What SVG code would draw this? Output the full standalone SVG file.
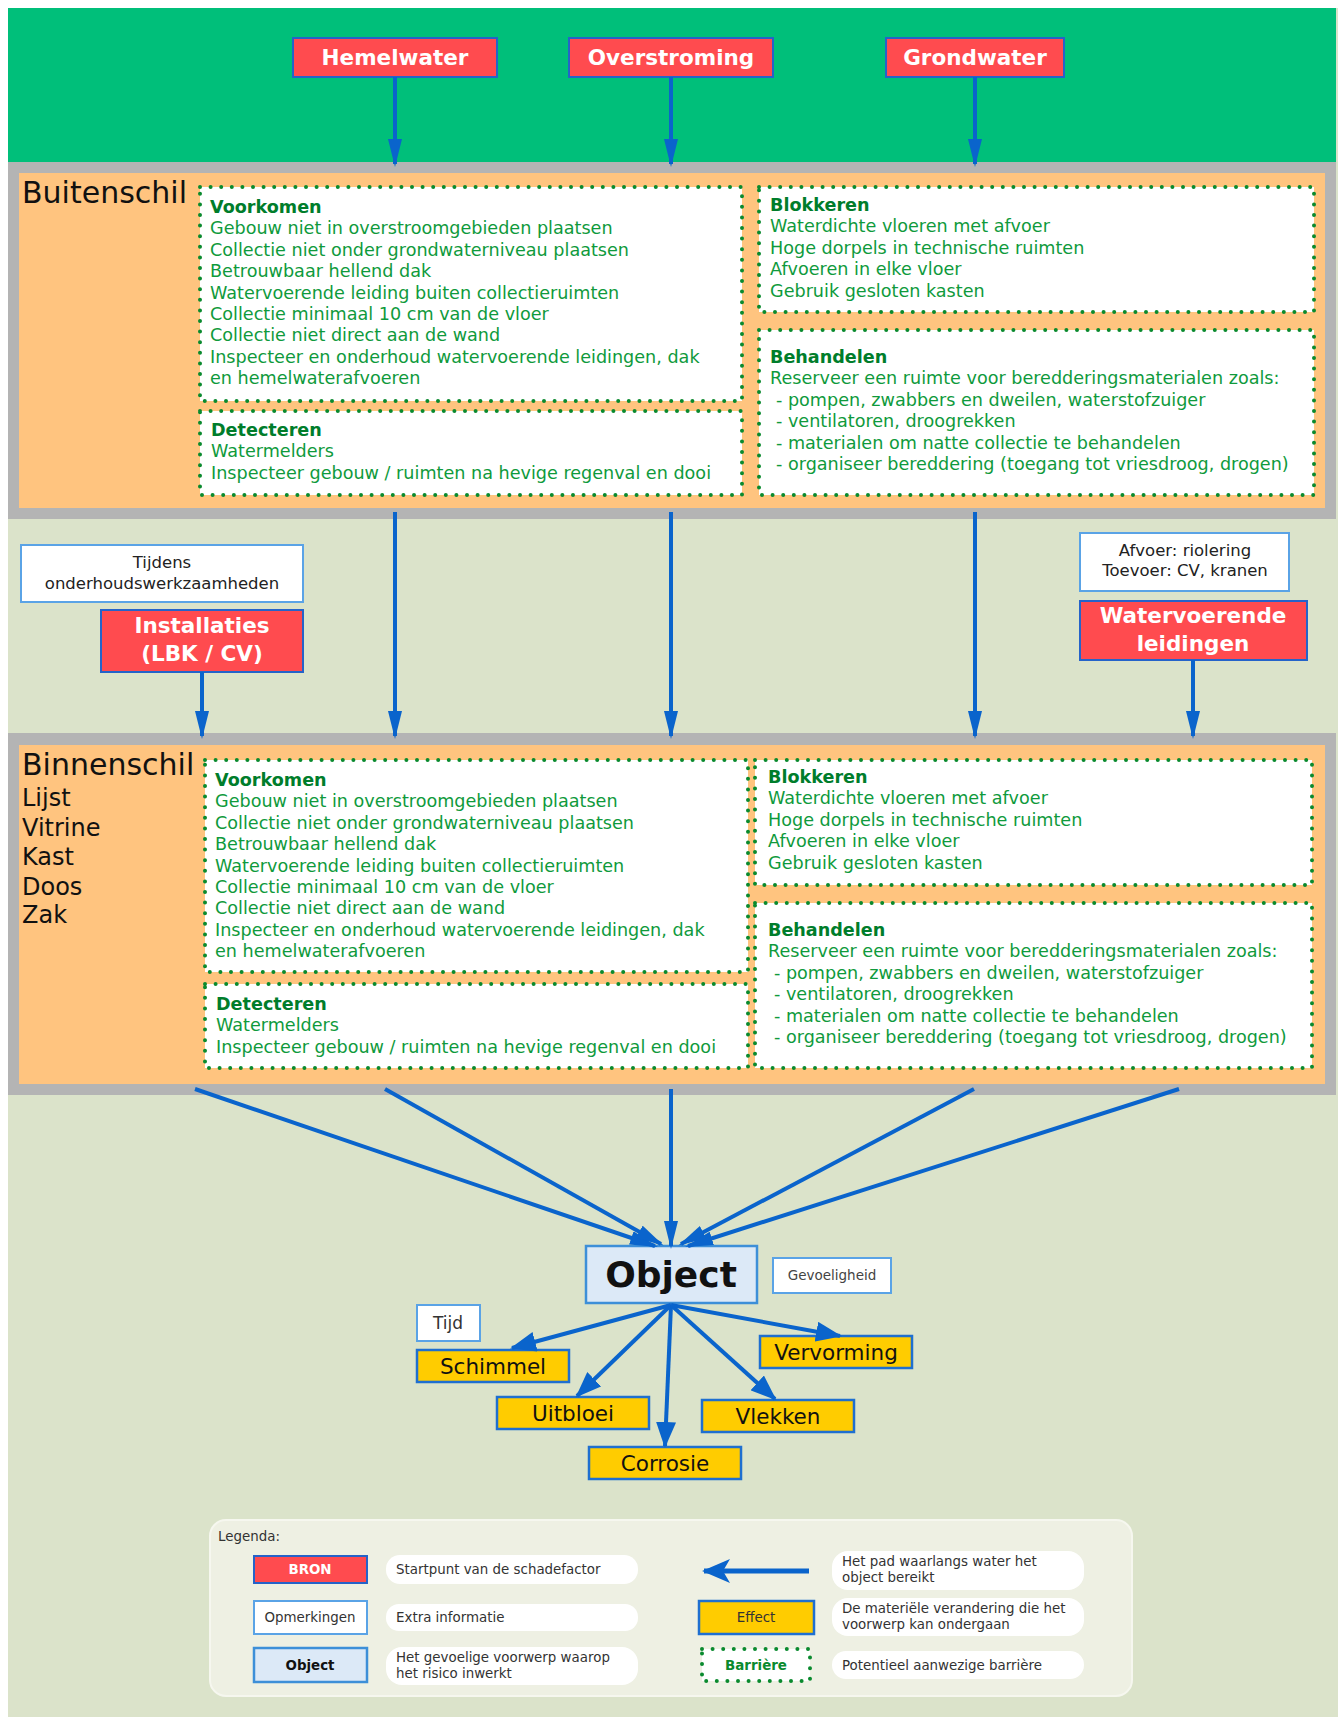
<svg xmlns="http://www.w3.org/2000/svg" width="1338" height="1717" viewBox="0 0 1338 1717">
<defs>
<marker id="ah" markerUnits="userSpaceOnUse" markerWidth="28" markerHeight="14" viewBox="0 0 28 14" refX="25" refY="7" orient="auto">
<path d="M0,0 L28,7 L0,14 z" fill="#0a64cc"/>
</marker>
<marker id="ah2" markerUnits="userSpaceOnUse" markerWidth="26" markerHeight="20" viewBox="0 0 26 20" refX="24" refY="10" orient="auto">
<path d="M0,0 L26,10 L0,20 z" fill="#0a64cc"/>
</marker>
<marker id="ah3" markerUnits="userSpaceOnUse" markerWidth="28" markerHeight="24" viewBox="0 0 28 24" refX="26" refY="12" orient="auto">
<path d="M0,0 L28,12 L0,24 L7,12 z" fill="#0a64cc"/>
</marker>
</defs>
<style>
text{font-family:"DejaVu Sans",Verdana,sans-serif}
.body{font-size:17.6px;fill:#0f9a3c}
.ttl{font-weight:bold;fill:#007d2b}
.dot{fill:#fff;stroke:#0a8a2e;stroke-width:4;stroke-dasharray:0 10.6;stroke-linecap:round}
.src{fill:#ff4b4f;stroke:#2563c9;stroke-width:2}
.srct{font-weight:bold;font-size:21.5px;fill:#fff;text-anchor:middle}
.note{fill:#fff;stroke:#5aa3e6;stroke-width:2}
.notet{font-size:16.5px;fill:#222;text-anchor:middle}
.eff{fill:#ffcc00;stroke:#1f6fd0;stroke-width:2.5}
.efft{font-size:21.5px;fill:#111;text-anchor:middle}
.arr{stroke:#0a64cc;stroke-width:4;fill:none;marker-end:url(#ah)}
.arr2{stroke:#0a64cc;stroke-width:4;fill:none;marker-end:url(#ah2)}
.shell{font-size:30px;fill:#111}
.sub{font-size:24px;fill:#111}
.pill{fill:#fff}
.lt{font-size:13.4px;fill:#333}
.ltc{font-size:13.4px;text-anchor:middle}
</style>

<!-- backgrounds -->
<rect x="0" y="0" width="1338" height="1717" fill="#ffffff"/>
<rect x="8" y="8" width="1330" height="1709" fill="#dbe3ca"/>
<rect x="8" y="8" width="1328" height="156" fill="#00bf7a"/>

<!-- Buitenschil -->
<g id="buitenschil">
<rect x="8" y="162" width="1328" height="357" fill="#b4b4b4"/>
<rect x="19" y="173" width="1306" height="335" fill="#ffc47f"/>
<text class="shell" x="22" y="203">Buitenschil</text>
</g>
<g id="b-voorkomen">
<rect class="dot" x="200" y="187" width="542" height="214"/>
<text class="body ttl" x="210" y="213">Voorkomen</text>
<text class="body" x="210" y="234.4">Gebouw niet in overstroomgebieden plaatsen</text>
<text class="body" x="210" y="255.8">Collectie niet onder grondwaterniveau plaatsen</text>
<text class="body" x="210" y="277.2">Betrouwbaar hellend dak</text>
<text class="body" x="210" y="298.6">Watervoerende leiding buiten collectieruimten</text>
<text class="body" x="210" y="320">Collectie minimaal 10 cm van de vloer</text>
<text class="body" x="210" y="341.4">Collectie niet direct aan de wand</text>
<text class="body" x="210" y="362.8">Inspecteer en onderhoud watervoerende leidingen, dak</text>
<text class="body" x="210" y="384.2">en hemelwaterafvoeren</text>
</g>
<g id="b-detecteren">
<rect class="dot" x="200" y="411" width="542" height="84"/>
<text class="body ttl" x="211" y="436">Detecteren</text>
<text class="body" x="211" y="457.4">Watermelders</text>
<text class="body" x="211" y="478.8">Inspecteer gebouw / ruimten na hevige regenval en dooi</text>
</g>
<g id="b-blokkeren">
<rect class="dot" x="759" y="187" width="555" height="125"/>
<text class="body ttl" x="770" y="211">Blokkeren</text>
<text class="body" x="770" y="232.4">Waterdichte vloeren met afvoer</text>
<text class="body" x="770" y="253.8">Hoge dorpels in technische ruimten</text>
<text class="body" x="770" y="275.2">Afvoeren in elke vloer</text>
<text class="body" x="770" y="296.6">Gebruik gesloten kasten</text>
</g>
<g id="b-behandelen">
<rect class="dot" x="759" y="330" width="555" height="165"/>
<text class="body ttl" x="770" y="363">Behandelen</text>
<text class="body" x="770" y="384.4">Reserveer een ruimte voor beredderingsmaterialen zoals:</text>
<text class="body" x="776" y="405.8">- pompen, zwabbers en dweilen, waterstofzuiger</text>
<text class="body" x="776" y="427.2">- ventilatoren, droogrekken</text>
<text class="body" x="776" y="448.6">- materialen om natte collectie te behandelen</text>
<text class="body" x="776" y="470">- organiseer bereddering (toegang tot vriesdroog, drogen)</text>
</g>

<!-- Binnenschil -->
<g id="binnenschil">
<rect x="8" y="733" width="1328" height="362" fill="#b4b4b4"/>
<rect x="19" y="745" width="1306" height="339" fill="#ffc47f"/>
<text class="shell" x="22" y="775">Binnenschil</text>
<text class="sub" x="22" y="806">Lijst</text>
<text class="sub" x="22" y="836">Vitrine</text>
<text class="sub" x="22" y="865">Kast</text>
<text class="sub" x="22" y="895">Doos</text>
<text class="sub" x="22" y="923">Zak</text>
</g>
<g id="i-voorkomen">
<rect class="dot" x="205" y="760" width="543" height="212"/>
<text class="body ttl" x="215" y="786">Voorkomen</text>
<text class="body" x="215" y="807.4">Gebouw niet in overstroomgebieden plaatsen</text>
<text class="body" x="215" y="828.8">Collectie niet onder grondwaterniveau plaatsen</text>
<text class="body" x="215" y="850.2">Betrouwbaar hellend dak</text>
<text class="body" x="215" y="871.6">Watervoerende leiding buiten collectieruimten</text>
<text class="body" x="215" y="893">Collectie minimaal 10 cm van de vloer</text>
<text class="body" x="215" y="914.4">Collectie niet direct aan de wand</text>
<text class="body" x="215" y="935.8">Inspecteer en onderhoud watervoerende leidingen, dak</text>
<text class="body" x="215" y="957.2">en hemelwaterafvoeren</text>
</g>
<g id="i-detecteren">
<rect class="dot" x="205" y="984" width="543" height="84"/>
<text class="body ttl" x="216" y="1010">Detecteren</text>
<text class="body" x="216" y="1031.4">Watermelders</text>
<text class="body" x="216" y="1052.8">Inspecteer gebouw / ruimten na hevige regenval en dooi</text>
</g>
<g id="i-blokkeren">
<rect class="dot" x="755" y="760" width="557" height="125"/>
<text class="body ttl" x="768" y="783">Blokkeren</text>
<text class="body" x="768" y="804.4">Waterdichte vloeren met afvoer</text>
<text class="body" x="768" y="825.8">Hoge dorpels in technische ruimten</text>
<text class="body" x="768" y="847.2">Afvoeren in elke vloer</text>
<text class="body" x="768" y="868.6">Gebruik gesloten kasten</text>
</g>
<g id="i-behandelen">
<rect class="dot" x="755" y="903" width="557" height="165"/>
<text class="body ttl" x="768" y="936">Behandelen</text>
<text class="body" x="768" y="957.4">Reserveer een ruimte voor beredderingsmaterialen zoals:</text>
<text class="body" x="774" y="978.8">- pompen, zwabbers en dweilen, waterstofzuiger</text>
<text class="body" x="774" y="1000.2">- ventilatoren, droogrekken</text>
<text class="body" x="774" y="1021.6">- materialen om natte collectie te behandelen</text>
<text class="body" x="774" y="1043">- organiseer bereddering (toegang tot vriesdroog, drogen)</text>
</g>

<!-- Sources -->
<g id="hemelwater"><rect class="src" x="293" y="38" width="204" height="39"/><text class="srct" x="395" y="65">Hemelwater</text></g>
<g id="overstroming"><rect class="src" x="569" y="38" width="204" height="39"/><text class="srct" x="671" y="65">Overstroming</text></g>
<g id="grondwater"><rect class="src" x="886" y="38" width="178" height="39"/><text class="srct" x="975" y="65">Grondwater</text></g>
<g id="tijdens"><rect class="note" x="21" y="545" width="282" height="57"/><text class="notet" x="162" y="568">Tijdens</text><text class="notet" x="162" y="589">onderhoudswerkzaamheden</text></g>
<g id="installaties"><rect class="src" x="101" y="610" width="202" height="62"/><text class="srct" x="202" y="633">Installaties</text><text class="srct" x="202" y="661">(LBK / CV)</text></g>
<g id="afvoer"><rect class="note" x="1080" y="533" width="209" height="58"/><text class="notet" x="1185" y="556">Afvoer: riolering</text><text class="notet" x="1185" y="576">Toevoer: CV, kranen</text></g>
<g id="leidingen"><rect class="src" x="1080" y="601" width="227" height="59"/><text class="srct" x="1193" y="623">Watervoerende</text><text class="srct" x="1193" y="651">leidingen</text></g>

<!-- Object and effects -->
<g id="object"><rect x="586" y="1246" width="171" height="57" fill="#dce9f7" stroke="#3d8fd8" stroke-width="2.5"/><text x="671" y="1287" font-size="36" font-weight="bold" fill="#111" text-anchor="middle">Object</text></g>
<g id="gevoeligheid"><rect class="note" x="773" y="1258" width="118" height="35"/><text x="832" y="1280" font-size="13.5" fill="#444" text-anchor="middle">Gevoeligheid</text></g>
<g id="tijd"><rect class="note" x="417" y="1305" width="63" height="36"/><text x="448" y="1329" font-size="17" fill="#333" text-anchor="middle">Tijd</text></g>
<g id="schimmel"><rect class="eff" x="417" y="1350" width="152" height="32"/><text class="efft" x="493" y="1374">Schimmel</text></g>
<g id="vervorming"><rect class="eff" x="760" y="1336" width="152" height="32"/><text class="efft" x="836" y="1360">Vervorming</text></g>
<g id="uitbloei"><rect class="eff" x="497" y="1397" width="152" height="32"/><text class="efft" x="573" y="1421">Uitbloei</text></g>
<g id="vlekken"><rect class="eff" x="702" y="1400" width="152" height="32"/><text class="efft" x="778" y="1424">Vlekken</text></g>
<g id="corrosie"><rect class="eff" x="589" y="1447" width="152" height="32"/><text class="efft" x="665" y="1471">Corrosie</text></g>

<!-- Connectors -->
<g id="connectors">
<line class="arr" x1="395" y1="77" x2="395" y2="164"/>
<line class="arr" x1="671" y1="77" x2="671" y2="164"/>
<line class="arr" x1="975" y1="77" x2="975" y2="164"/>
<line class="arr" x1="395" y1="512" x2="395" y2="736"/>
<line class="arr" x1="671" y1="512" x2="671" y2="736"/>
<line class="arr" x1="975" y1="512" x2="975" y2="736"/>
<line class="arr" x1="202" y1="672" x2="202" y2="736"/>
<line class="arr" x1="1193" y1="660" x2="1193" y2="736"/>
<line class="arr" x1="195" y1="1089" x2="655" y2="1246"/>
<line class="arr" x1="385" y1="1089" x2="661" y2="1244"/>
<line class="arr" x1="671" y1="1089" x2="671" y2="1246"/>
<line class="arr" x1="974" y1="1089" x2="681" y2="1244"/>
<line class="arr" x1="1179" y1="1089" x2="688" y2="1246"/>
<line class="arr2" x1="671" y1="1305" x2="512" y2="1348"/>
<line class="arr2" x1="671" y1="1305" x2="577" y2="1396"/>
<line class="arr2" x1="671" y1="1305" x2="665" y2="1446"/>
<line class="arr2" x1="671" y1="1305" x2="775" y2="1399"/>
<line class="arr2" x1="671" y1="1305" x2="840" y2="1336"/>
</g>

<!-- Legend -->
<g id="legend">
<rect x="210" y="1520" width="922" height="176" rx="16" fill="#eef0e3" stroke="#f6f7ef" stroke-width="2"/>
<text class="lt" x="218" y="1541">Legenda:</text>
<rect class="src" x="254" y="1556" width="113" height="27"/><text class="ltc" x="310" y="1574" fill="#fff" font-weight="bold">BRON</text>
<rect class="pill" x="386" y="1555" width="252" height="29" rx="14"/><text class="lt" x="396" y="1574">Startpunt van de schadefactor</text>
<rect class="note" x="254" y="1601" width="113" height="33"/><text class="ltc" x="310" y="1622" fill="#333">Opmerkingen</text>
<rect class="pill" x="386" y="1604" width="252" height="27" rx="13"/><text class="lt" x="396" y="1622">Extra informatie</text>
<rect x="254" y="1648" width="113" height="34" fill="#dce9f7" stroke="#3d8fd8" stroke-width="2.5"/><text class="ltc" x="310" y="1670" fill="#111" font-weight="bold">Object</text>
<rect class="pill" x="386" y="1647" width="252" height="38" rx="16"/><text class="lt" x="396" y="1662">Het gevoelige voorwerp waarop</text><text class="lt" x="396" y="1678">het risico inwerkt</text>
<line x1="809" y1="1571" x2="704" y2="1571" stroke="#0a64cc" stroke-width="5" marker-end="url(#ah3)"/>
<rect class="pill" x="832" y="1551" width="252" height="39" rx="16"/><text class="lt" x="842" y="1566">Het pad waarlangs water het</text><text class="lt" x="842" y="1582">object bereikt</text>
<rect class="eff" x="699" y="1601" width="115" height="33"/><text class="ltc" x="756" y="1622" fill="#333">Effect</text>
<rect class="pill" x="832" y="1598" width="252" height="38" rx="16"/><text class="lt" x="842" y="1613">De materiële verandering die het</text><text class="lt" x="842" y="1629">voorwerp kan ondergaan</text>
<rect class="dot" x="702" y="1649" width="108" height="32"/><text class="ltc" x="756" y="1670" fill="#0a8a2e" font-weight="bold">Barrière</text>
<rect class="pill" x="832" y="1651" width="252" height="28" rx="14"/><text class="lt" x="842" y="1670">Potentieel aanwezige barrière</text>
</g>
</svg>
